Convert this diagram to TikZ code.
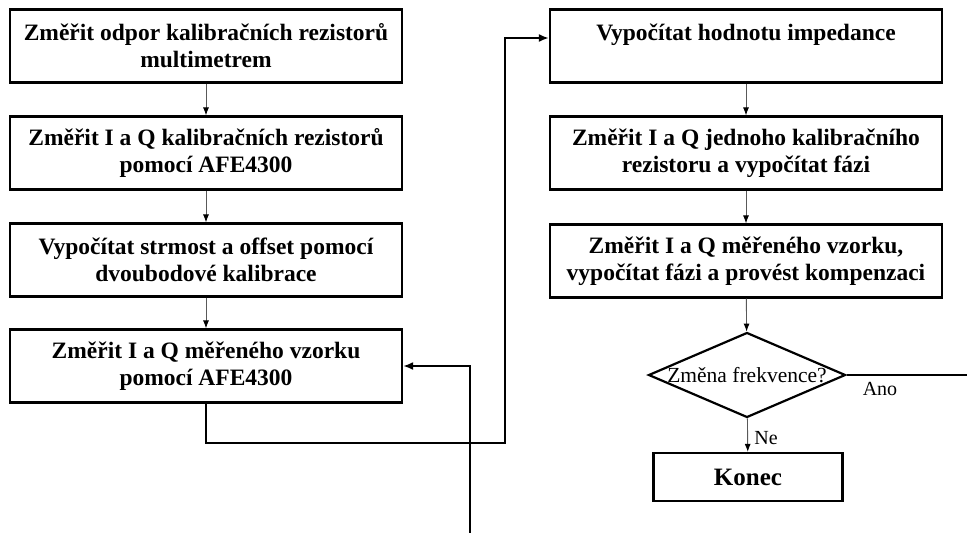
\documentclass[tikz,border=0pt]{standalone}
\usepackage{fontspec}
\setmainfont{Liberation Serif}
\usepackage{tikz}
\usetikzlibrary{arrows.meta}
\usetikzlibrary{shapes.geometric}
\usetikzlibrary{positioning}

\begin{document}
\begin{tikzpicture}[x=1pt,y=-1pt,
  box/.style={draw,rectangle,line width=2.2pt,minimum width=392pt,minimum height=73pt,inner sep=0pt,align=center,font=\fontsize{23.5}{27}\selectfont\bfseries},
  decision/.style={draw,diamond,line width=2.2pt,minimum width=197pt,minimum height=85pt,inner sep=0pt,font=\fontsize{21.5}{22}\selectfont},
  flow/.style={draw=black!65,line width=0.9pt,-{Latex[length=8pt,width=6pt,color=black]}},
  loopline/.style={line width=2pt},
  looptip/.style={-{Latex[length=10pt,width=8pt]}},
  tag/.style={inner sep=0pt,font=\fontsize{20}{22}\selectfont}]
  \useasboundingbox (0,0) rectangle (967,533);

  \node (b1) at (206,46)[box]{Změřit odpor kalibračních rezistorů\\multimetrem};
  \node (b2) at (206,153)[box]{Změřit I a Q kalibračních rezistorů\\pomocí AFE4300};
  \node (b3) at (206,260)[box]{Vypočítat strmost a offset pomocí\\dvoubodové kalibrace};
  \node (b4) at (206,366)[box]{Změřit I a Q měřeného vzorku\\pomocí AFE4300};

  \node (b5) at (746,46)[box]{Vypočítat hodnotu impedance\\\mbox{}};
  \node (b6) at (746,153)[box]{Změřit I a Q jednoho kalibračního\\rezistoru a vypočítat fázi};
  \node (b7) at (746,261)[box]{Změřit I a Q měřeného vzorku,\\vypočítat fázi a provést kompenzaci};
  \node (d) at (747,375)[decision]{\makebox[0pt]{Změna frekvence?}};
  \node (konec) at (748,477)[box,minimum width=189pt,minimum height=48pt,font=\fontsize{25}{27}\selectfont\bfseries]{Konec};

  \node (ano) at (880,389)[tag]{Ano};
  \node (ne) at (766,438)[tag]{Ne};

  \coordinate (c1) at (505,443);
  \coordinate (c2) at (967,375);
  \coordinate (c3) at (470,533);

  \draw[flow](b1)--(b2);
  \draw[flow](b2)--(b3);
  \draw[flow](b3)--(b4);
  \draw[flow](b5)--(b6);
  \draw[flow](b6)--(b7);
  \draw[flow](b7)--(d);
  \draw[flow](d)--(konec);

  \draw[loopline,looptip](b4.south)|-(c1)|-([yshift=8pt]b5.west);
  \draw[loopline](d.east)--(c2);
  \draw[loopline,looptip](c3)|-(b4.east);
\end{tikzpicture}
\end{document}
